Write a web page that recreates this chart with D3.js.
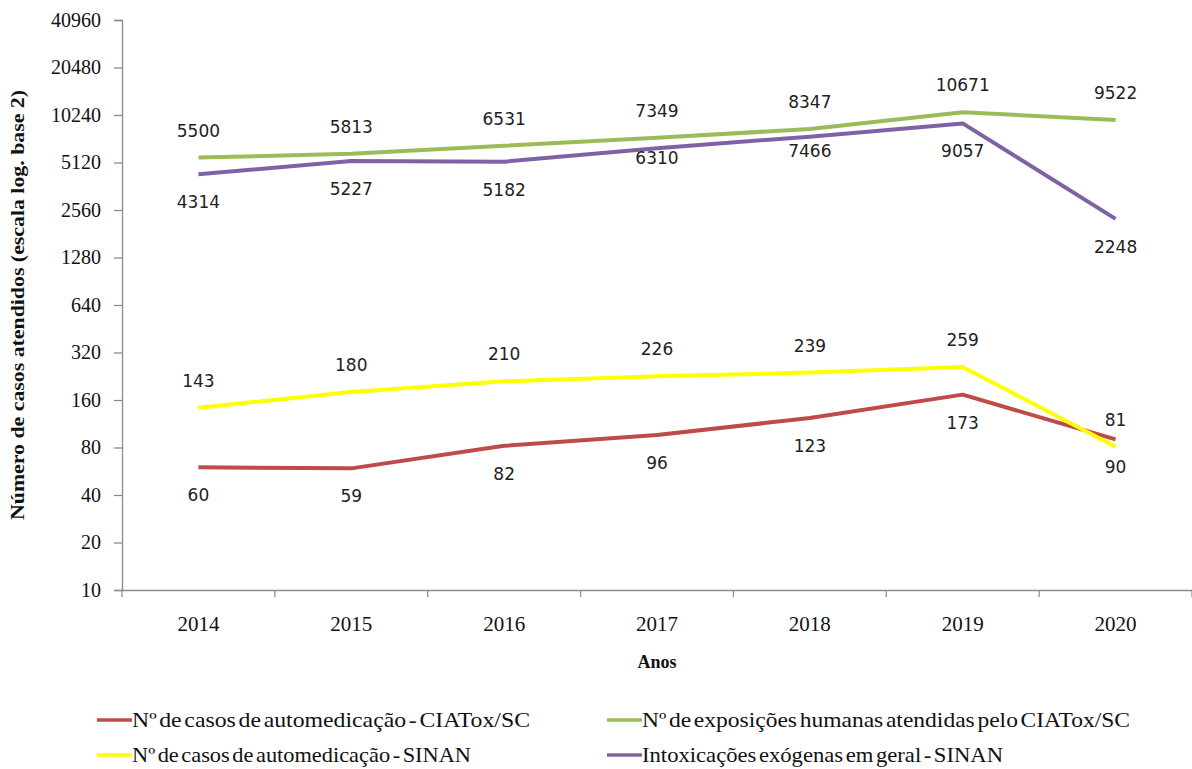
<!DOCTYPE html>
<html>
<head>
<meta charset="utf-8">
<script src="https://cdn.jsdelivr.net/npm/d3@7"></script>
<style>
  html, body { margin: 0; padding: 0; background: #fff; }
  svg { display: block; }
</style>
</head>
<body>
<svg id="chart" width="1192" height="769"></svg>
<script>
// Anos e séries (número de casos atendidos)
const years = ["2014", "2015", "2016", "2017", "2018", "2019", "2020"];
const automedCiatox = [60, 59, 82, 96, 123, 173, 90];
const exposicoesCiatox = [5500, 5813, 6531, 7349, 8347, 10671, 9522];
const automedSinan = [143, 180, 210, 226, 239, 259, 81];
const intoxicacoesSinan = [4314, 5227, 5182, 6310, 7466, 9057, 2248];
const yTicks = [10, 20, 40, 80, 160, 320, 640, 1280, 2560, 5120, 10240, 20480, 40960];

const series = [
  { name: "Nº de casos de automedicação - CIATox/SC", values: automedCiatox, color: "#BE4B48", label: "below" },
  { name: "Nº de exposições humanas atendidas pelo CIATox/SC", values: exposicoesCiatox, color: "#9BBB59", label: "above" },
  { name: "Nº de casos de automedicação - SINAN", values: automedSinan, color: "#FFFF00", label: "above" },
  { name: "Intoxicações exógenas em geral - SINAN", values: intoxicacoesSinan, color: "#7F62A6", label: "below" }
];

const svg = d3.select("#chart");
const plotLeft = 122, plotRight = 1192, plotTop = 20, plotBottom = 590;

const x = d3.scaleBand().domain(years).range([plotLeft, plotRight]);
const y = d3.scaleLog().base(2).domain([10, 40960]).range([plotBottom, plotTop]);
const cx = d => x(d) + x.bandwidth() / 2;

const axisColor = "#8a8a8a";
const serif = "'Liberation Serif', 'Times New Roman', serif";
const sans = "'DejaVu Sans', Verdana, sans-serif";

// Eixo Y (escala log base 2)
const yAxis = svg.append("g")
  .attr("transform", `translate(${plotLeft},0)`)
  .call(d3.axisLeft(y).tickValues(yTicks).tickFormat(d3.format("d")).tickSizeOuter(0).tickSize(8).tickPadding(13));
yAxis.select(".domain").attr("stroke", axisColor).attr("stroke-width", 1.3);
yAxis.selectAll(".tick line").attr("stroke", axisColor).attr("stroke-width", 1.3);
yAxis.selectAll(".tick text")
  .attr("font-family", serif).attr("font-size", 20).attr("fill", "#111");

// Eixo X (anos)
const xAxis = svg.append("g")
  .attr("transform", `translate(0,${plotBottom})`)
  .call(d3.axisBottom(x).tickSize(0).tickPadding(0));
xAxis.select(".domain").attr("stroke", axisColor).attr("stroke-width", 1.6);
xAxis.selectAll(".tick text")
  .attr("font-family", serif).attr("font-size", 21).attr("fill", "#111")
  .attr("y", 41).attr("dy", 0);
// marcas entre as categorias
const boundaries = years.map(d => x(d)).concat([x(years[years.length - 1]) + x.bandwidth()]);
svg.append("g").selectAll("line").data(boundaries).join("line")
  .attr("x1", d => d).attr("x2", d => d)
  .attr("y1", plotBottom).attr("y2", plotBottom + 7)
  .attr("stroke", axisColor).attr("stroke-width", 1.2);

// Títulos dos eixos
svg.append("text")
  .attr("transform", `translate(24,${(plotTop + plotBottom) / 2}) rotate(-90)`)
  .attr("text-anchor", "middle")
  .attr("font-family", serif).attr("font-weight", "bold").attr("font-size", 18)
  .attr("textLength", 430).attr("lengthAdjust", "spacingAndGlyphs")
  .attr("fill", "#111")
  .text("Número de casos atendidos (escala log. base 2)");

svg.append("text")
  .attr("x", (plotLeft + plotRight) / 2).attr("y", 668)
  .attr("text-anchor", "middle")
  .attr("font-family", serif).attr("font-weight", "bold").attr("font-size", 18)
  .attr("fill", "#111")
  .text("Anos");

// Linhas das séries
const line = d3.line()
  .x((d, i) => cx(years[i]))
  .y(d => y(d));

svg.append("g").selectAll("path").data(series).join("path")
  .attr("d", s => line(s.values))
  .attr("fill", "none")
  .attr("stroke", s => s.color)
  .attr("stroke-width", 4)
  .attr("stroke-linejoin", "round");

// Rótulos de valores
const labelShift = { "Intoxicações exógenas em geral - SINAN": { 3: -18, 4: -14 } };
series.forEach(s => {
  svg.append("g").selectAll("text").data(s.values).join("text")
    .attr("x", (d, i) => cx(years[i]))
    .attr("y", (d, i) => {
      const base = s.label === "above" ? y(d) - 21 : y(d) + 34;
      const adj = (labelShift[s.name] && labelShift[s.name][i]) || 0;
      return base + adj;
    })
    .attr("text-anchor", "middle")
    .attr("font-family", sans).attr("font-size", 17).attr("fill", "#222")
    .text(d => d);
});

// Legenda
const legendPos = [
  { x: 97, y: 720, w: 398 },
  { x: 607, y: 720, w: 488 },
  { x: 97, y: 755, w: 339 },
  { x: 607, y: 755, w: 361 }
];
const legend = svg.append("g");
series.forEach((s, i) => {
  const p = legendPos[i];
  const g = legend.append("g");
  g.append("line")
    .attr("x1", p.x).attr("x2", p.x + 35)
    .attr("y1", p.y).attr("y2", p.y)
    .attr("stroke", s.color).attr("stroke-width", 3.5);
  g.append("text")
    .attr("x", p.x + 35).attr("y", p.y + 7)
    .attr("font-family", serif).attr("font-size", 22).attr("fill", "#111")
    .attr("word-spacing", -3)
    .attr("textLength", p.w).attr("lengthAdjust", "spacingAndGlyphs")
    .text(s.name);
});
</script>
</body>
</html>
